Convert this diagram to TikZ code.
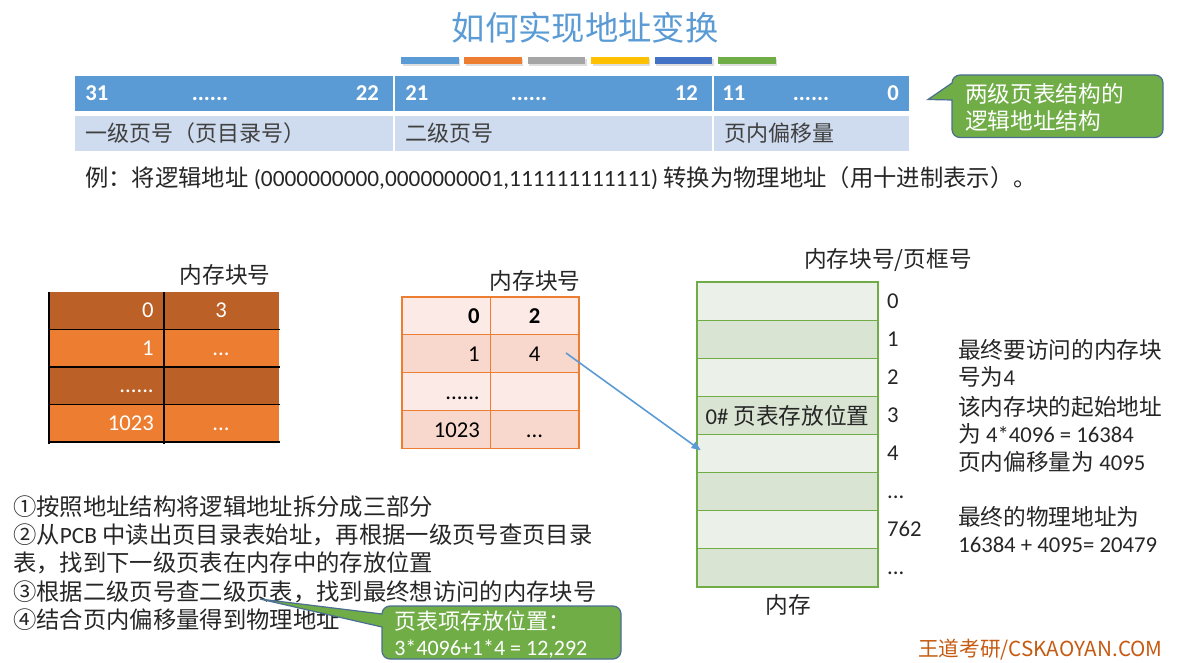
\documentclass[tikz,border=0pt]{standalone}
\usepackage{fontspec}
\setmainfont{Carlito}
\newfontfamily\cjk{Noto Sans CJK SC}
\usetikzlibrary{arrows.meta}

\definecolor{tBlue}{RGB}{91,155,213}
\definecolor{tOrange}{RGB}{237,125,49}
\definecolor{tGray}{RGB}{165,165,165}
\definecolor{tYellow}{RGB}{255,192,0}
\definecolor{tDBlue}{RGB}{68,114,196}
\definecolor{tGreen}{RGB}{112,173,71}
\definecolor{rowLt}{RGB}{207,219,238}
\definecolor{dkOr}{RGB}{187,96,38}
\definecolor{ptLt}{RGB}{251,234,229}
\definecolor{ptDk}{RGB}{248,216,204}
\definecolor{memLt}{RGB}{235,241,233}
\definecolor{memDk}{RGB}{217,228,210}
\definecolor{cEdge}{RGB}{75,110,145}
\definecolor{ink}{RGB}{38,38,38}
\definecolor{inkLt}{RGB}{64,64,64}
\definecolor{brand}{RGB}{197,90,17}

\newcommand\fs[1]{\fontsize{#1}{#1}\selectfont}

\begin{document}
\begin{tikzpicture}[x=0.75pt,y=0.75pt,yscale=-1,xscale=1,
  num/.style={inner sep=0.75pt, text height=10.5pt, text depth=0pt},
  hd/.style={num, font=\bfseries\fs{17}, color=white},
  dcell/.style={num, font=\fs{17}, color=white},
  pcell/.style={num, font=\fs{17}, color=black},
  mlbl/.style={num, font=\fs{17}, color=ink, anchor=west},
  zh/.style={inner sep=0.75pt, font=\cjk\fs{17}, color=ink},
  mix/.style={inner sep=0.75pt, font=\fs{17}, color=ink},
  callbox/.style={draw=cEdge, fill=tGreen, line width=0.9pt},
  link/.style={draw=tBlue, line width=1.2pt, -{Triangle[length=7pt,width=5.5pt]}, shorten >=-4pt}]
\useasboundingbox (0,0) rectangle (1189,663);

% Text Node
\draw (585,28) node [inner sep=0.75pt, font=\cjk\fs{25}, color=tBlue] (title) {如何实现地址变换};
%Shape: Rectangles under the title
\foreach \col [count=\i from 0] in {tBlue,tOrange,tGray,tYellow,tDBlue,tGreen}{
  \fill [black!13] (402.5+63.4*\i,59) rectangle ++(57.5,7);
  \fill [\col] (401+63.4*\i,57) rectangle ++(57.5,7);
}

%Shape: Rectangle (address fields)
\foreach \a/\b in {75/392.5,394.5/711.5,713.5/909}{
  \fill [tBlue] (\a,76) rectangle (\b,111);
  \fill [rowLt] (\a,116) rectangle (\b,151);
}
% Text Node
\draw (84,93.5) node [hd, anchor=west] (b31) {31};
\draw (210,93.5) node [hd] (hdots1) {......};
\draw (380,93.5) node [hd, anchor=east] (b22) {22};
\draw (404,93.5) node [hd, anchor=west] (b21) {21};
\draw (529,93.5) node [hd] (hdots2) {......};
\draw (699,93.5) node [hd, anchor=east] (b12) {12};
\draw (721,93.5) node [hd, anchor=west] (b11) {11};
\draw (811,93.5) node [hd] (hdots3) {......};
\draw (900,93.5) node [hd, anchor=east] (b0) {0};
% Text Node
\draw (84,133.5) node [zh, anchor=west, font=\cjk\fs{16.5}, color=inkLt] (fld1) {一级页号（页目录号）};
\draw (404,133.5) node [zh, anchor=west, font=\cjk\fs{16.5}, color=inkLt] (fld2) {二级页号};
\draw (723,133.5) node [zh, anchor=west, font=\cjk\fs{16.5}, color=inkLt] (fld3) {页内偏移量};

%Shape: Callout
\draw [callbox] (928,99.5) -- (952,83) [rounded corners=6pt] -- (952,75) -- (1163,75) -- (1163,137.5) -- (952,137.5) [sharp corners] -- (952,100) -- cycle;
% Text Node
\draw (964,107.5) node [anchor=west, inner sep=0.75pt, align=left, font=\cjk\fontsize{17}{20.5}\selectfont, color=white] (callA) {两级页表结构的\\逻辑地址结构};

% Text Node
\draw (84,178) node [mix, anchor=west, font=\fs{17.5}] (eg) {{\cjk 例：将逻辑地址} (0000000000,0000000001,111111111111) {\cjk 转换为物理地址（用十进制表示）。}};

%Page directory table
\draw (225,275) node [zh] (dirhd) {内存块号};
\foreach \r/\col in {0/dkOr,1/tOrange,2/dkOr,3/tOrange}
  \fill [\col] (49,292+37.5*\r) rectangle (279,329.5+37.5*\r);
\draw [line width=0.8pt] (49,292) -- (49,444) (164,292) -- (164,444);
\foreach \yy in {329.5,367,404.5,442}
  \draw [line width=0.8pt] (48.6,\yy) -- (280,\yy);
\draw (155,310.75) node [dcell, anchor=east] (dir0) {0};
\draw (221,310.75) node [dcell] (dir0v) {3};
\draw (155,348.25) node [dcell, anchor=east] (dir1) {1};
\draw (221,348.25) node [dcell] (dir1v) {...};
\draw (155,385.75) node [dcell, anchor=east] (dir2) {......};
\draw (155,423.25) node [dcell, anchor=east] (dir3) {1023};
\draw (221,423.25) node [dcell] (dir3v) {...};

%Second level page table
\draw (535,281) node [zh] (pthd) {内存块号};
\foreach \r/\col in {0/ptLt,1/ptDk,2/ptLt,3/ptDk}
  \fill [\col] (402,297+37.9*\r) rectangle (579,334.9+37.9*\r);
\draw [tOrange, line width=0.8pt] (402,297) rectangle (579,448.6) (490.5,297) -- (490.5,448.6);
\foreach \yy in {334.9,372.8,410.7}
  \draw [tOrange, line width=0.8pt] (402,\yy) -- (579,\yy);
\draw (481,316) node [pcell, anchor=east, font=\bfseries\fs{17}] (pt0) {0};
\draw (534.5,316) node [pcell, font=\bfseries\fs{17}] (pt0v) {2};
\draw (481,354) node [pcell, anchor=east] (pt1) {1};
\draw (534.5,354) node [pcell] (pt1v) {4};
\draw (481,392) node [pcell, anchor=east] (pt2) {......};
\draw (481,430) node [pcell, anchor=east] (pt3) {1023};
\draw (534.5,430) node [pcell] (pt3v) {...};

%Memory
\draw (888,260) node [zh] (memhd) {内存块号/页框号};
\foreach \i in {0,...,7}{
  \ifodd\i \def\mc{memDk}\else \def\mc{memLt}\fi
  \node [draw=tGreen, fill=\mc, line width=0.8pt, minimum width=135.75pt, minimum height=28.6pt, inner sep=0pt] (m\i) at (787.5,301.06+38.125*\i) {};
}
\node [mix, anchor=west] (pos0) at ([xshift=6pt]m3.west) {0\# {\cjk 页表存放位置}};
\node [mlbl] (r0) at ([xshift=5.5pt]m0.east) {0};
\node [mlbl] (r1) at ([xshift=5.5pt]m1.east) {1};
\node [mlbl] (r2) at ([xshift=5.5pt]m2.east) {2};
\node [mlbl] (r3) at ([xshift=5.5pt]m3.east) {3};
\node [mlbl] (r4) at ([xshift=5.5pt]m4.east) {4};
\node [mlbl] (r5) at ([xshift=5.5pt]m5.east) {...};
\node [mlbl] (r6) at ([xshift=5.5pt]m6.east) {762};
\node [mlbl] (r7) at ([xshift=5.5pt]m7.east) {...};
\draw (788,605) node [zh] (memlbl) {内存};

%Arrow from the entry to the block
\coordinate (arrS) at (566,353);
\draw [link] (arrS) -- (m4.176);

% Text Node
\draw (957,350) node [zh, anchor=west] (fin1) {最终要访问的内存块};
\draw (957,377) node [mix, anchor=west] (fin2) {{\cjk 号为}4};
\draw (957,407) node [zh, anchor=west] (fin3) {该内存块的起始地址};
\draw (957,434) node [mix, anchor=west] (fin4) {{\cjk 为} 4*4096 = 16384};
\draw (957,462) node [mix, anchor=west] (fin5) {{\cjk 页内偏移量为} 4095};
\draw (957,517) node [zh, anchor=west] (fin6) {最终的物理地址为};
\draw (957,545) node [mix, anchor=west] (fin7) {16384 + 4095= 20479};

% Text Node
\draw (12,507) node [zh, anchor=west, font=\cjk\fs{17.5}] (s1) {①按照地址结构将逻辑地址拆分成三部分};
\draw (12,534.5) node [mix, anchor=west, font=\fs{17.5}] (s2) {{\cjk ②从}PCB {\cjk 中读出页目录表始址，再根据一级页号查页目录}};
\draw (12,563) node [zh, anchor=west, font=\cjk\fs{17.5}] (s2b) {表，找到下一级页表在内存中的存放位置};
\draw (12,591.5) node [zh, anchor=west, font=\cjk\fs{17.5}] (s3) {③根据二级页号查二级页表，找到最终想访问的内存块号};
\draw (12,620) node [zh, anchor=west, font=\cjk\fs{17.5}] (s4) {④结合页内偏移量得到物理地址};

%Shape: Callout
\draw [callbox] (260,599) -- (382,614) [rounded corners=6pt] -- (382,606) -- (621,606) -- (621,659) -- (382,659) [sharp corners] -- (382,627) -- cycle;
% Text Node
\draw (393,635) node [anchor=west, inner sep=0.75pt, align=left, font=\fontsize{16.5}{19.5}\selectfont, color=white] (callB) {{\cjk 页表项存放位置：}\\3*4096+1*4 = 12,292};

% Text Node
\draw (917,650) node [anchor=west, inner sep=0.75pt, font=\cjk\fs{15.5}, color=brand] (brandtxt) {王道考研/CSKAOYAN.COM};

\end{tikzpicture}
\end{document}
